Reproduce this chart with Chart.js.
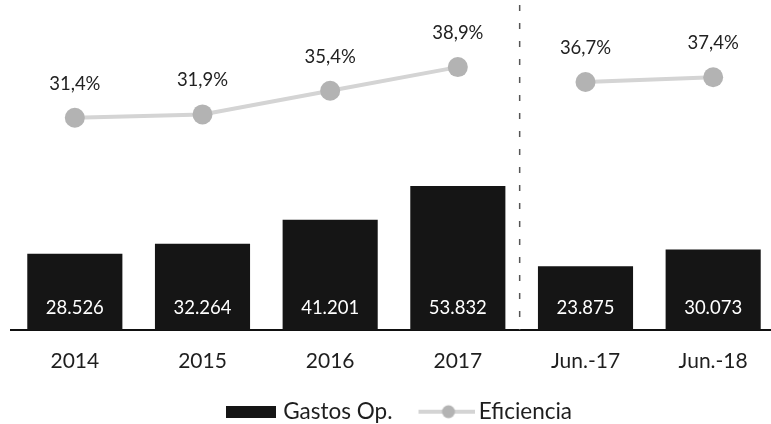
<!DOCTYPE html>
<html>
<head>
<meta charset="utf-8">
<script src="https://cdn.jsdelivr.net/npm/chart.js@4.4.1/dist/chart.umd.min.js"></script>
<style>
  html, body { margin: 0; padding: 0; background: #fff; overflow: hidden; }
  #wrap { width: 777px; height: 433px; }
</style>
</head>
<body>
<div id="wrap"><canvas id="myChart"></canvas></div>
<script>
const categorias = ['2014', '2015', '2016', '2017', 'Jun.-17', 'Jun.-18']
const gastosOp = [28526, 32264, 41201, 53832, 23875, 30073]
const eficiencia = [31.4, 31.9, 35.4, 38.9, 36.7, 37.4]

const fmtMiles = v => String(v).replace(/\B(?=(\d{3})+(?!\d))/g, '.')
const fmtPct = v => v.toFixed(1).replace('.', ',') + '%'

// legend swatches
const boxIcon = document.createElement('canvas')
boxIcon.width = 66
boxIcon.height = 12
let c = boxIcon.getContext('2d')
c.fillStyle = '#151515'
c.fillRect(15, 0, 50, 12)

const lineIcon = document.createElement('canvas')
lineIcon.width = 72
lineIcon.height = 16
c = lineIcon.getContext('2d')
c.strokeStyle = '#d4d4d4'
c.lineWidth = 4
c.beginPath()
c.moveTo(15, 8)
c.lineTo(72, 8)
c.stroke()
c.fillStyle = '#b3b3b3'
c.beginPath()
c.arc(45, 8, 6.5, 0, Math.PI * 2)
c.fill()

const separador = {
    id: 'separador',
    afterDatasetsDraw(chart) {
        const { ctx, chartArea, scales } = chart
        const x = (scales.x.getPixelForValue(3) + scales.x.getPixelForValue(4)) / 2 - 2
        ctx.save()
        ctx.strokeStyle = '#555'
        ctx.lineWidth = 1.5
        ctx.setLineDash([6, 12])
        ctx.beginPath()
        ctx.moveTo(x, 5)
        ctx.lineTo(x, chartArea.bottom)
        ctx.stroke()
        ctx.restore()
    },
}

const etiquetas = {
    id: 'etiquetas',
    afterDatasetsDraw(chart) {
        const ctx = chart.ctx
        ctx.save()
        ctx.textAlign = 'center'
        ctx.textBaseline = 'middle'
        ctx.font = '18.5px Lato'
        ctx.fillStyle = '#fff'
        chart.getDatasetMeta(0).data.forEach((bar, i) => {
            ctx.fillText(fmtMiles(gastosOp[i]), bar.x, chart.chartArea.bottom - 22)
        })
        ctx.fillStyle = '#222'
        chart.getDatasetMeta(1).data.forEach((pt, i) => {
            ctx.fillText(fmtPct(eficiencia[i]), pt.x, pt.y - 34)
        })
        ctx.restore()
    },
}

const defaultLabels = Chart.defaults.plugins.legend.labels.generateLabels

new Chart(document.getElementById('myChart'), {
    data: {
        labels: categorias,
        datasets: [
            {
                type: 'bar',
                label: 'Gastos Op.',
                data: gastosOp,
                backgroundColor: '#151515',
                barPercentage: 0.745,
                categoryPercentage: 1,
                yAxisID: 'y',
            },
            {
                type: 'line',
                label: 'Eficiencia',
                data: eficiencia,
                borderColor: '#d4d4d4',
                borderWidth: 4,
                pointRadius: 10,
                pointBackgroundColor: '#b3b3b3',
                pointBorderWidth: 0,
                yAxisID: 'y1',
                segment: {
                    borderColor: ctx => (ctx.p0DataIndex === 3 ? 'rgba(0,0,0,0)' : undefined),
                },
            },
        ],
    },
    options: {
        responsive: true,
        maintainAspectRatio: false,
        animation: false,
        layout: { autoPadding: false, padding: { top: 9, left: 11, right: 0, bottom: 0 } },
        scales: {
            x: {
                grid: { display: false, drawTicks: false },
                border: { display: true, color: '#111', width: 2 },
                ticks: { padding: 19, color: '#1e1e1e', font: { family: 'Lato', size: 21 } },
                afterFit(scale) {
                    scale.height = 51.5
                },
            },
            y: { display: false, min: 0, max: 120000 },
            y1: { display: false, min: 0, max: 47.5 },
        },
        plugins: {
            tooltip: { enabled: false },
            legend: {
                position: 'bottom',
                labels: {
                    usePointStyle: true,
                    pointStyleWidth: 56,
                    padding: 19,
                    color: '#1e1e1e',
                    font: { family: 'Lato', size: 22.5 },
                    generateLabels(chart) {
                        const items = defaultLabels(chart)
                        items[0].pointStyle = boxIcon
                        items[1].pointStyle = lineIcon
                        return items
                    },
                },
            },
        },
    },
    plugins: [separador, etiquetas],
})
</script>
</body>
</html>
